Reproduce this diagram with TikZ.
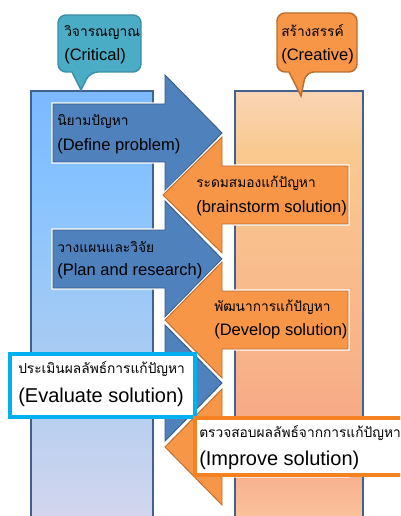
\documentclass[tikz,border=0pt]{standalone}
\usepackage{fontspec}
\setmainfont{Liberation Sans}
\newfontfamily\thfont[Script=Thai]{Loma}
\definecolor{lcT}{RGB}{100,160,255}
\definecolor{lcA}{RGB}{135,195,255}
\definecolor{lcB}{RGB}{176,205,240}
\definecolor{lcC}{RGB}{215,215,238}
\definecolor{lcD}{RGB}{248,226,242}
\definecolor{rcT}{RGB}{251,232,207}
\definecolor{rcA}{RGB}{253,228,230}
\definecolor{rcB}{RGB}{249,201,143}
\definecolor{rcC}{RGB}{248,180,138}
\definecolor{rcD}{RGB}{246,166,133}
\definecolor{rcE}{RGB}{250,192,154}
\definecolor{rcF}{RGB}{252,228,228}
\definecolor{colborder}{RGB}{65,98,143}
\definecolor{bluefill}{RGB}{79,129,189}
\definecolor{blueline}{RGB}{56,93,138}
\definecolor{orfill}{RGB}{247,150,70}
\definecolor{orline}{RGB}{185,110,50}
\definecolor{tealfill}{RGB}{75,172,198}
\definecolor{tealline}{RGB}{58,142,165}
\definecolor{evalline}{RGB}{0,176,240}
\definecolor{impline}{RGB}{245,130,32}
\pgfdeclareverticalshading{leftcolshade}{100bp}{color(0bp)=(lcD); color(25bp)=(lcC); color(41bp)=(lcB); color(64bp)=(lcA); color(100bp)=(lcT)}
\pgfdeclareverticalshading{rightcolshade}{100bp}{color(0bp)=(rcF); color(11bp)=(rcF); color(27bp)=(rcE); color(34bp)=(rcD); color(46bp)=(rcC); color(68bp)=(rcB); color(84bp)=(rcA); color(100bp)=(rcT)}
\tikzset{
  column/.style={draw=colborder, line width=1.1pt},
  bluearrow/.style={preaction={draw=white, line width=2.4pt}, fill=bluefill, draw=blueline, line width=0.7pt, line join=miter},
  orarrow/.style={preaction={draw=white, line width=2.4pt}, fill=orfill, draw=orline, line width=0.7pt, line join=miter},
  txt/.style={anchor=west, inner sep=0pt, font=\fontsize{12.4}{15}\selectfont},
  thtxt/.style={anchor=west, inner sep=0pt, font=\thfont\fontsize{10.3}{13}\selectfont},
  bigtxt/.style={anchor=west, inner sep=0pt, font=\fontsize{15}{18}\selectfont},
}
\begin{document}
\begin{tikzpicture}[x=0.75pt, y=-0.75pt]
\useasboundingbox (0,0) rectangle (400,516);
\begin{scope}
\clip (0,0) rectangle (400,516);
% columns
\path[shading=leftcolshade] (31,91) rectangle (153,530);
\draw[column] (31,530) -- (31,91) -- (153,91) -- (153,530);
\path[shading=rightcolshade] (235,91) rectangle (363,530);
\draw[column] (235,530) -- (235,91) -- (363,91) -- (363,530);
% callouts
\draw[fill=tealfill, draw=tealline, line width=1.1pt, rounded corners=6pt]
  (72,72) -- (58,72) -- (58,15) -- (141,15) -- (141,72) -- (90,72) [sharp corners] -- (81,90) -- cycle;
\draw[fill=orfill, draw=orline, line width=1.1pt, rounded corners=6pt]
  (289,72) -- (277,72) -- (277,13) -- (357,13) -- (357,72) -- (306,72) [sharp corners] -- (301,96) -- cycle;
\node[thtxt] (crth) at (64,33) {วิจารณญาณ};
\node[txt] (cren) at (64,56) {(Critical)};
\node[thtxt] (cvth) at (281,31) {สร้างสรรค์};
\node[txt] (cven) at (281,56) {(Creative)};
% arrows
\path[bluearrow] (53,104) -- (165,104) -- (165,75) -- (222,133) -- (165,191) -- (165,162) -- (53,162) -- cycle;
\path[orarrow] (348,166) -- (222,166) -- (222,137) -- (163,195) -- (222,253) -- (222,224) -- (348,224) -- cycle;
\path[bluearrow] (53,230) -- (165,230) -- (165,201) -- (222,259) -- (165,317) -- (165,288) -- (53,288) -- cycle;
\path[orarrow] (348,291) -- (222,291) -- (222,262) -- (165,320) -- (222,378) -- (222,349) -- (348,349) -- cycle;
\path[bluearrow] (53,354) -- (165,354) -- (165,325) -- (222,383) -- (165,441) -- (165,412) -- (53,412) -- cycle;
\path[orarrow] (348,418) -- (222,418) -- (222,389) -- (165,447) -- (222,505) -- (222,476) -- (348,476) -- cycle;
% arrow texts
\node[thtxt] (a1th) at (57,122) {นิยามปัญหา};
\node[txt] (a1en) at (57,146) {(Define problem)};
\node[thtxt] (b1th) at (196,183) {ระดมสมองแก้ปัญหา};
\node[txt] (b1en) at (196,208) {(brainstorm solution)};
\node[thtxt] (a2th) at (57,247) {วางแผนและวิจัย};
\node[txt] (a2en) at (57,271) {(Plan and research)};
\node[thtxt] (b2th) at (214,307) {พัฒนาการแก้ปัญหา};
\node[txt] (b2en) at (214,331) {(Develop solution)};
% highlighted boxes
\draw[fill=white, draw=evalline, line width=2.4pt] (10,354) rectangle (195,417);
\node[thtxt] (evth) at (18,369) {ประเมินผลลัพธ์การแก้ปัญหา};
\node[bigtxt] (even) at (18,397) {(Evaluate solution)};
\draw[fill=white, draw=impline, line width=2.4pt] (195,418) rectangle (410,475);
\node[thtxt] (imth) at (199,433) {ตรวจสอบผลลัพธ์จากการแก้ปัญหา};
\node[bigtxt] (imen) at (199,460) {(Improve solution)};
\end{scope}
\end{tikzpicture}
\end{document}
